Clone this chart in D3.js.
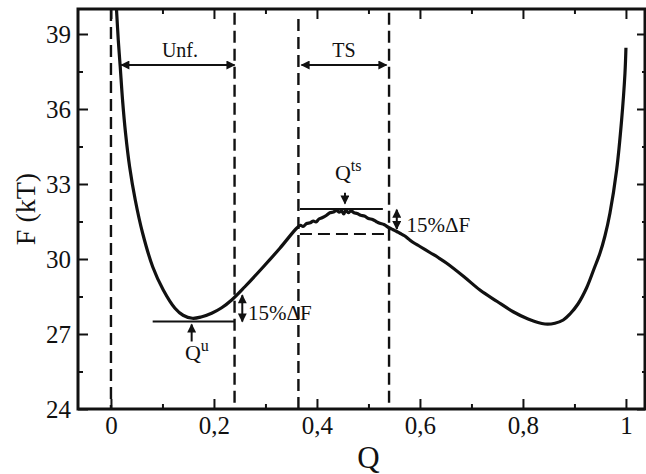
<!DOCTYPE html>
<html>
<head>
<meta charset="utf-8">
<script src="https://cdn.jsdelivr.net/npm/d3@7"></script>
<style>
  body { margin: 0; background: #fff; }
  text { font-family: "Liberation Serif", "DejaVu Serif", serif; fill: #111; }
</style>
</head>
<body>
<div id="chart"></div>
<script>
// free energy profile F(Q)
var qValues = [0.009, 0.0107, 0.0142, 0.0179, 0.0225, 0.0283, 0.0363, 0.0472, 0.0614, 0.0812,
  0.1016, 0.1243, 0.14, 0.158, 0.175, 0.1955, 0.215, 0.2344, 0.26, 0.296,
  0.328, 0.3605, 0.368, 0.373, 0.38, 0.387, 0.393, 0.398, 0.404, 0.41,
  0.418, 0.425, 0.432, 0.438, 0.443, 0.448, 0.452, 0.456, 0.461, 0.466,
  0.472, 0.478, 0.485, 0.492, 0.5, 0.508, 0.515, 0.522, 0.53, 0.54,
  0.548, 0.555, 0.561, 0.57, 0.578, 0.587, 0.6, 0.62, 0.636, 0.652,
  0.685, 0.7165, 0.75, 0.781, 0.81, 0.8427, 0.8621, 0.8783, 0.8913, 0.9068,
  0.9237, 0.9379, 0.9495, 0.9592, 0.9689, 0.9819, 0.9916, 0.9981, 1.0];
var fValues = [40.5, 40.0, 38.76, 37.72, 36.36, 35.04, 33.68, 32.36, 31.04, 29.68,
  28.76, 28.03, 27.75, 27.63, 27.68, 27.83, 28.05, 28.36, 28.89, 29.69,
  30.43, 31.23, 31.35, 31.3, 31.42, 31.45, 31.52, 31.48, 31.6, 31.65,
  31.74, 31.85, 31.88, 31.95, 31.87, 31.92, 31.8, 31.95, 31.85, 31.93,
  31.85, 31.82, 31.75, 31.72, 31.62, 31.58, 31.5, 31.43, 31.38, 31.25,
  31.17, 31.1, 31.03, 30.93, 30.8, 30.66, 30.5, 30.25, 30.05, 29.83,
  29.3, 28.76, 28.3, 27.89, 27.6, 27.4, 27.43, 27.56, 27.8, 28.2,
  28.85, 29.6, 30.23, 30.92, 31.83, 33.56, 35.56, 37.43, 38.45];

var xTickValues = [0, 0.2, 0.4, 0.6, 0.8, 1];
var xTickLabels = ["0", "0,2", "0,4", "0,6", "0,8", "1"];
var xMinorTicks = [0.1, 0.3, 0.5, 0.7, 0.9];
var yTickValues = [24, 27, 30, 33, 36, 39];
var yMinorTicks = [25.5, 28.5, 31.5, 34.5, 37.5];

// region boundaries and reference levels
var boundaries = [0, 0.24, 0.364, 0.54];
var unfRange = [0.02, 0.24];
var tsRange = [0.37, 0.535];
var minLevel = 27.5, tsTop = 32, tsBottom = 31;

var W = 646, H = 474;
var m = {left: 78, right: 1, top: 9, bottom: 65};

var x = d3.scaleLinear().domain([-0.064, 1.037]).range([m.left, W - m.right]);
var y = d3.scaleLinear().domain([24, 40]).range([H - m.bottom, m.top]);

var svg = d3.select("#chart").append("svg")
  .attr("width", W).attr("height", H);

var defs = svg.append("defs");
defs.append("clipPath").attr("id", "clip")
  .append("rect")
  .attr("x", m.left).attr("y", m.top)
  .attr("width", W - m.left - m.right).attr("height", H - m.top - m.bottom);

["start", "end"].forEach(function(k) {
  defs.append("marker")
    .attr("id", "arrow-" + k)
    .attr("viewBox", "0 0 10 10")
    .attr("refX", 9).attr("refY", 5)
    .attr("markerWidth", 5).attr("markerHeight", 4.5)
    .attr("markerUnits", "strokeWidth")
    .attr("orient", k == "start" ? "auto-start-reverse" : "auto")
    .append("path")
    .attr("d", "M0,0 L10,5 L0,10 Z")
    .attr("fill", "#111");
});

// axes with inward ticks
function styleAxis(g) {
  g.select(".domain").remove();
  g.selectAll(".tick line").attr("stroke", "#111").attr("stroke-width", 2);
  g.selectAll("text").attr("font-size", 25).attr("fill", "#111")
    .style("font-family", "'Liberation Serif', serif");
}

svg.append("g").attr("transform", "translate(0," + y(24) + ")")
  .call(d3.axisBottom(x).tickValues(xTickValues).tickSize(-10).tickPadding(7)
    .tickFormat(function(d, i) { return xTickLabels[i]; }))
  .call(styleAxis);
svg.append("g").attr("transform", "translate(0," + y(24) + ")")
  .call(d3.axisBottom(x).tickValues(xMinorTicks).tickSize(-5).tickFormat(""))
  .call(styleAxis);
svg.append("g").attr("transform", "translate(0," + y(40) + ")")
  .call(d3.axisTop(x).tickValues(xTickValues).tickSize(-10).tickFormat(""))
  .call(styleAxis);
svg.append("g").attr("transform", "translate(0," + y(40) + ")")
  .call(d3.axisTop(x).tickValues(xMinorTicks).tickSize(-5).tickFormat(""))
  .call(styleAxis);

svg.append("g").attr("transform", "translate(" + m.left + ",0)")
  .call(d3.axisLeft(y).tickValues(yTickValues).tickSize(-10).tickPadding(7))
  .call(styleAxis);
svg.append("g").attr("transform", "translate(" + m.left + ",0)")
  .call(d3.axisLeft(y).tickValues(yMinorTicks).tickSize(-5).tickFormat(""))
  .call(styleAxis);
svg.append("g").attr("transform", "translate(" + (W - m.right) + ",0)")
  .call(d3.axisRight(y).tickValues(yTickValues).tickSize(-8).tickFormat(""))
  .call(styleAxis);
svg.append("g").attr("transform", "translate(" + (W - m.right) + ",0)")
  .call(d3.axisRight(y).tickValues(yMinorTicks).tickSize(-3).tickFormat(""))
  .call(styleAxis);

// frame
svg.append("rect")
  .attr("x", m.left).attr("y", m.top)
  .attr("width", W - m.left - m.right).attr("height", H - m.top - m.bottom)
  .attr("fill", "none").attr("stroke", "#111").attr("stroke-width", 3);

// axis titles
svg.append("text")
  .attr("x", (x(0) + x(1)) / 2).attr("y", 468)
  .attr("text-anchor", "middle").attr("font-size", 31)
  .text("Q");
svg.append("text")
  .attr("transform", "translate(35," + y(32) + ") rotate(-90)")
  .attr("text-anchor", "middle").attr("font-size", 28)
  .text("F (kT)");

// dashed boundaries
var vTop = [40, 39.85, 39.6, 39.85];
svg.append("g").selectAll("line")
  .data(boundaries)
  .enter().append("line")
  .attr("x1", function(d) { return x(d); })
  .attr("x2", function(d) { return x(d); })
  .attr("y1", function(d, i) { return y(vTop[i]); })
  .attr("y2", y(24))
  .attr("stroke", "#111").attr("stroke-width", 2.4)
  .attr("stroke-dasharray", "12,6");

// reference levels
svg.append("line")
  .attr("x1", x(0.081)).attr("x2", x(0.24))
  .attr("y1", y(minLevel)).attr("y2", y(minLevel))
  .attr("stroke", "#111").attr("stroke-width", 2);
svg.append("line")
  .attr("x1", x(0.367)).attr("x2", x(0.528))
  .attr("y1", y(tsTop)).attr("y2", y(tsTop))
  .attr("stroke", "#111").attr("stroke-width", 2);
svg.append("line")
  .attr("x1", x(0.367)).attr("x2", x(0.54))
  .attr("y1", y(tsBottom)).attr("y2", y(tsBottom))
  .attr("stroke", "#111").attr("stroke-width", 2.2)
  .attr("stroke-dasharray", "12,6");

// curve
var line = d3.line()
  .x(function(d) { return x(d[0]); })
  .y(function(d) { return y(d[1]); })
  .curve(d3.curveCatmullRom.alpha(0.5));

svg.append("path")
  .datum(qValues.map(function(q, i) { return [q, fValues[i]]; }))
  .attr("clip-path", "url(#clip)")
  .attr("d", line)
  .attr("fill", "none").attr("stroke", "#111").attr("stroke-width", 3.2)
  .attr("stroke-linejoin", "round");

// arrows
function arrow(x1, y1, x2, y2, both) {
  var l = svg.append("line")
    .attr("x1", x(x1)).attr("y1", y(y1))
    .attr("x2", x(x2)).attr("y2", y(y2))
    .attr("stroke", "#111").attr("stroke-width", 2)
    .attr("marker-end", "url(#arrow-end)");
  if (both) l.attr("marker-start", "url(#arrow-start)");
}
arrow(unfRange[0], 37.76, unfRange[1], 37.76, true);
arrow(tsRange[0], 37.76, tsRange[1], 37.76, true);
arrow(0.1567, 26.7, 0.1567, 27.38, false);
arrow(0.4544, 32.65, 0.4544, 32.22, false);
arrow(0.255, 27.5, 0.255, 28.55, true);
arrow(0.555, 31.97, 0.555, 31.2, true);

// labels
svg.append("text").attr("x", x(0.134)).attr("y", y(38.09))
  .attr("text-anchor", "middle").attr("font-size", 20).text("Unf.");
svg.append("text").attr("x", x(0.4524)).attr("y", y(38.09))
  .attr("text-anchor", "middle").attr("font-size", 20).text("TS");

function qLabel(q, f, sup) {
  var t = svg.append("text").attr("x", x(q)).attr("y", y(f)).attr("font-size", 22);
  t.append("tspan").text("Q");
  t.append("tspan").attr("font-size", 16).attr("dy", -9).text(sup);
}
qLabel(0.1437, 25.96, "u");
qLabel(0.435, 33.16, "ts");

svg.append("text").attr("x", x(0.266)).attr("y", y(27.56))
  .attr("font-size", 21).text("15%\u0394F");
svg.append("text").attr("x", x(0.574)).attr("y", y(31.09))
  .attr("font-size", 21).text("15%\u0394F");
</script>
</body>
</html>
